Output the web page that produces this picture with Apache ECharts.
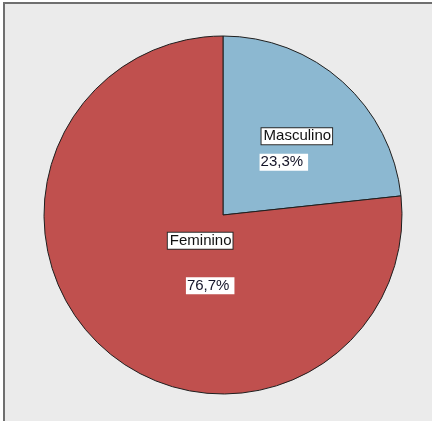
<!DOCTYPE html>
<html>
<head>
<meta charset="utf-8">
<script src="https://cdn.jsdelivr.net/npm/echarts@6/dist/echarts.min.js"></script>
<style>
  html, body { margin: 0; padding: 0; background: #ffffff; overflow: hidden; }
  #frame {
    position: absolute; left: 3px; top: 2px; width: 440px; height: 430px;
    border: 2px solid #6f6f6f; background: #ebebeb; box-sizing: border-box;
  }
  #chart { position: absolute; left: 0; top: 0; width: 432px; height: 421px; }
</style>
</head>
<body>
<div id="frame"></div>
<div id="chart"></div>
<script>
// Sexo: share of respondents (%)
const categories = ['Masculino', 'Feminino'];
const shares = [23.3, 76.7];
const sliceColors = ['#8cb8d1', '#c0504e'];

const pieData = categories.map((name, i) => ({ name: name, value: shares[i] }));
const fmtPct = v => v.toFixed(1).replace('.', ',') + '%';

// label nudges relative to the slice's inside anchor
const nameShift = [[12, -10], [39, -43]];
const pctShift = [[-1, 16], [49, 2]];

const center = [223, 215];
const radius = 179;
const font = 'Liberation Sans, Arial, sans-serif';

const chart = echarts.init(document.getElementById('chart'), null, { renderer: 'canvas' });
chart.setOption({
  backgroundColor: 'transparent',
  animation: false,
  series: [
    {
      type: 'pie',
      center: center,
      radius: radius,
      startAngle: 90,
      clockwise: true,
      silent: true,
      data: pieData,
      itemStyle: {
        color: p => sliceColors[p.dataIndex],
        borderColor: '#1e1e1e',
        borderWidth: 1
      },
      label: {
        show: true,
        position: 'inside',
        formatter: p => p.name,
        fontFamily: font,
        fontSize: 15,
        color: '#111111',
        backgroundColor: '#ffffff',
        borderColor: '#2a2a2a',
        borderWidth: 1,
        padding: [1, 1, 0, 2]
      },
      labelLine: { show: false },
      labelLayout: p => ({ dx: nameShift[p.dataIndex][0], dy: nameShift[p.dataIndex][1] }),
      emphasis: { disabled: true }
    },
    {
      type: 'pie',
      center: center,
      radius: radius,
      startAngle: 90,
      clockwise: true,
      silent: true,
      data: pieData,
      itemStyle: { color: 'rgba(0,0,0,0)', borderWidth: 0 },
      label: {
        show: true,
        position: 'inside',
        formatter: p => fmtPct(p.value),
        fontFamily: font,
        fontSize: 15,
        color: '#141428',
        backgroundColor: '#ffffff',
        padding: [1, 5, 1, 1]
      },
      labelLine: { show: false },
      labelLayout: p => ({ dx: pctShift[p.dataIndex][0], dy: pctShift[p.dataIndex][1] }),
      emphasis: { disabled: true }
    }
  ]
});
</script>
</body>
</html>
